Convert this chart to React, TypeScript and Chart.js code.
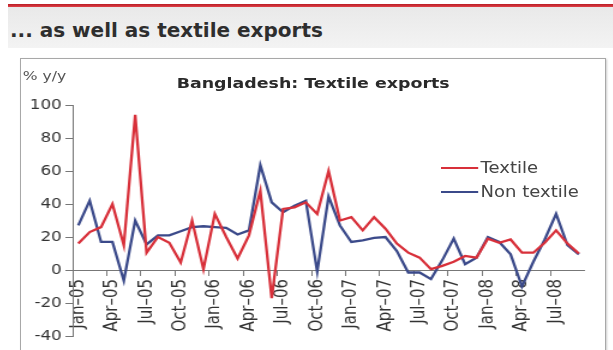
import React, { useEffect, useRef } from "react";
import { Chart, registerables } from "chart.js";

Chart.register(...registerables);

const months = [
  "Jan–05", "Feb–05", "Mar–05", "Apr–05", "May–05", "Jun–05", "Jul–05", "Aug–05", "Sep–05", "Oct–05", "Nov–05", "Dec–05",
  "Jan–06", "Feb–06", "Mar–06", "Apr–06", "May–06", "Jun–06", "Jul–06", "Aug–06", "Sep–06", "Oct–06", "Nov–06", "Dec–06",
  "Jan–07", "Feb–07", "Mar–07", "Apr–07", "May–07", "Jun–07", "Jul–07", "Aug–07", "Sep–07", "Oct–07", "Nov–07", "Dec–07",
  "Jan–08", "Feb–08", "Mar–08", "Apr–08", "May–08", "Jun–08", "Jul–08", "Aug–08", "Sep–08",
];

const textile = [
  16, 23, 26, 40, 15, 94, 10.5, 20, 16.5, 4.5, 30, 0.5,
  34, 20, 7, 21, 48, -17, 37, 38, 41, 34, 60, 30,
  32, 24, 32, 25, 16, 10.5, 7.5, 0.5, 2.5, 5, 8.5, 7.5,
  19, 16.5, 18.5, 10.5, 10.5, 16.5, 24, 16, 10,
];

const nonTextile = [
  27, 42, 17, 17, -6.5, 30, 15.5, 21, 21, 23.5, 26, 26.5,
  26, 25.5, 21.5, 24, 63.5, 41, 35, 39, 42, -1, 44.5, 27,
  17, 18, 19.5, 20, 11.5, -1.5, -1.5, -5.5, 6, 19, 3.5, 7.5,
  20, 17, 9.5, -10, 5, 18.5, 34, 15, 9.5,
];

const yTicks = { min: -40, max: 100, step: 20 };

const RED = "#d8303a";
const BLUE = "#3b4a8a";
const FONT = "'DejaVu Sans', Verdana, sans-serif";
const SX = 1.2;

export default function App() {
  const ref = useRef<HTMLCanvasElement | null>(null);

  useEffect(() => {
    const canvas = ref.current;
    if (!canvas) return;
    const chart = new Chart(canvas, {
      type: "line",
      data: {
        labels: months,
        datasets: [
          { label: "Textile", data: textile, borderColor: RED, backgroundColor: RED, borderWidth: 2.3, pointRadius: 0, tension: 0 },
          { label: "Non textile", data: nonTextile, borderColor: BLUE, backgroundColor: BLUE, borderWidth: 2.3, pointRadius: 0, tension: 0 },
        ],
      },
      options: {
        responsive: false,
        animation: false,
        devicePixelRatio: 1,
        layout: { padding: { left: 0, right: 12, top: 47, bottom: 13 } },
        plugins: { legend: { display: false }, title: { display: false }, tooltip: { enabled: false } },
        scales: {
          x: {
            type: "category",
            position: { y: 0 },
            offset: true,
            grid: {
              offset: true,
              drawOnChartArea: false,
              tickLength: 5,
              color: (ctx: any) => (ctx.index % 3 === 0 ? "#777" : "rgba(0,0,0,0)"),
            },
            border: { display: true, color: "#777", width: 1 },
            ticks: {
              autoSkip: false,
              maxRotation: 90,
              minRotation: 90,
              padding: 4,
              color: "#333",
              font: { family: FONT, size: 15 },
              callback: (_v: any, i: number) => (i % 3 === 0 ? months[i] : ""),
            },
          },
          y: {
            min: yTicks.min,
            max: yTicks.max,
            ticks: { stepSize: yTicks.step, color: "#333", font: { family: FONT, size: 14 }, padding: 3 },
            grid: { drawOnChartArea: false, tickLength: 6, color: "#777" },
            border: { display: true, color: "#777", width: 1 },
            afterFit: (s: any) => {
              s.width = 43;
            },
          },
        },
      },
    });
    return () => chart.destroy();
  }, []);

  return (
    <div style={{ position: "absolute", left: 0, top: 0, width: 613, height: 350, overflow: "hidden", background: "#fff", fontFamily: FONT }}>
      <div style={{ position: "absolute", left: 8, top: 4, width: 605, height: 3, background: "linear-gradient(#b81c24, #e04048)" }} />
      <div style={{ position: "absolute", left: 8, top: 7, width: 605, height: 41, background: "linear-gradient(#e9e9e9, #f3f3f3)" }} />
      <div style={{ position: "absolute", left: 10, top: 20, height: 20, lineHeight: "20px", fontSize: 20, fontWeight: "bold", color: "#2e2e2e", whiteSpace: "nowrap" }}>
        ... as well as textile exports
      </div>
      <div style={{ position: "absolute", left: 20, top: 58, width: 584, height: 300, border: "1px solid #a8a8a8", boxShadow: "1px 1px 2px #ccc" }} />
      <div style={{ position: "absolute", left: 21, top: 59, width: 487, height: 291, transform: `scaleX(${SX})`, transformOrigin: "0 0" }}>
        <canvas ref={ref} width={487} height={291} style={{ position: "absolute", left: 0, top: -1 }} />
        <div style={{ position: "absolute", left: 1.5, top: 10, fontSize: 13, lineHeight: "14px", color: "#555", whiteSpace: "nowrap" }}>% y/y</div>
        <div style={{ position: "absolute", left: 0, width: 487, top: 16, textAlign: "center", fontSize: 14.5, lineHeight: "16px", fontWeight: "bold", color: "#2a2a2a", whiteSpace: "nowrap" }}>
          Bangladesh: Textile exports
        </div>
        <div style={{ position: "absolute", left: 350, top: 108, width: 31, height: 2, background: RED }} />
        <div style={{ position: "absolute", left: 383, top: 100, fontSize: 15, lineHeight: "18px", color: "#444", whiteSpace: "nowrap" }}>Textile</div>
        <div style={{ position: "absolute", left: 350, top: 132, width: 31, height: 2, background: BLUE }} />
        <div style={{ position: "absolute", left: 383, top: 124, fontSize: 15, lineHeight: "18px", color: "#444", whiteSpace: "nowrap" }}>Non textile</div>
      </div>
    </div>
  );
}
